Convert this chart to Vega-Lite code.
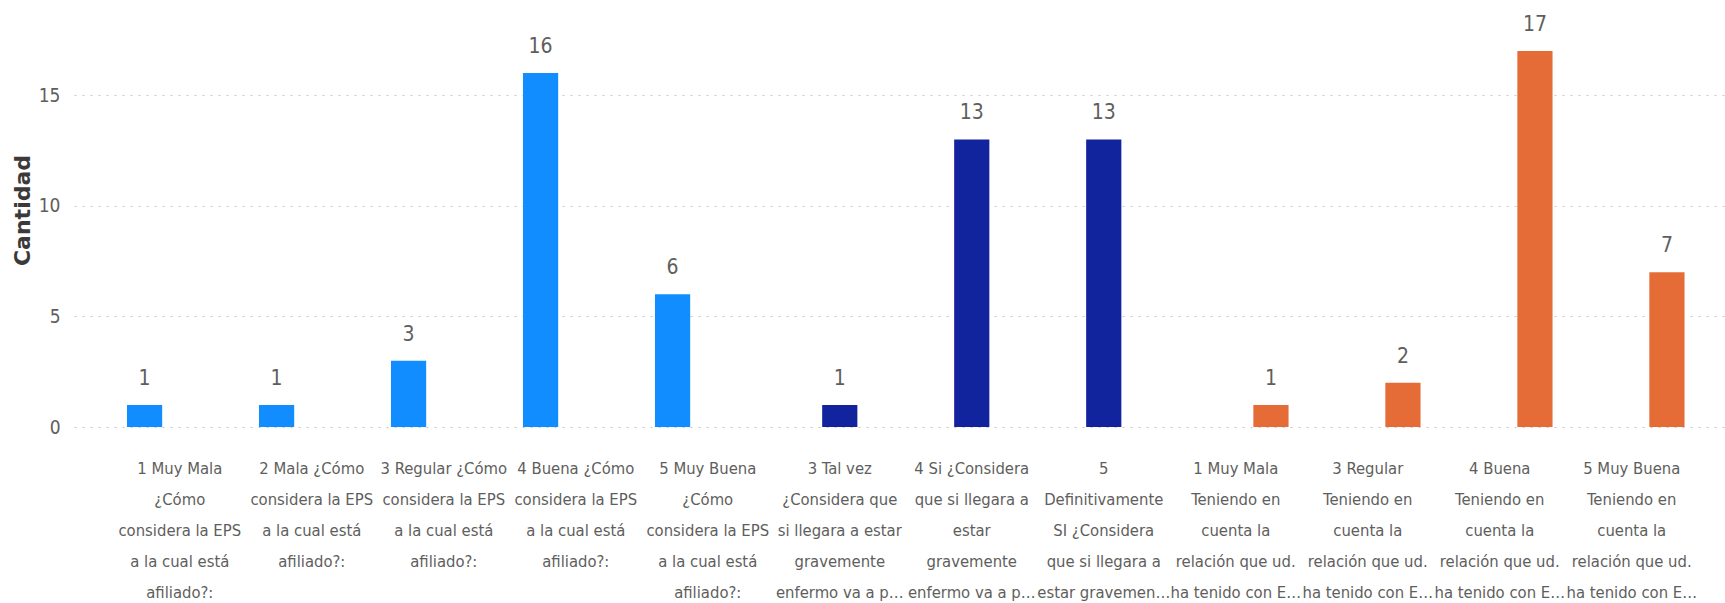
{
  "$schema": "https://vega.github.io/schema/vega-lite/v6.json",
  "autosize": {"type": "none"},
  "padding": {"left": 74, "top": 0, "right": 0, "bottom": 176},
  "width": 1651,
  "height": 427,
  "background": "white",
  "config": {
    "view": {"stroke": null},
    "font": "DejaVu Sans Condensed, sans-serif"
  },
  "data": {
    "values": [
      {"cat": "1 Muy Mala|¿Cómo|considera la EPS|a la cual está|afiliado?:", "serie": "EPS", "cantidad": 1},
      {"cat": "2 Mala ¿Cómo|considera la EPS|a la cual está|afiliado?:", "serie": "EPS", "cantidad": 1},
      {"cat": "3 Regular ¿Cómo|considera la EPS|a la cual está|afiliado?:", "serie": "EPS", "cantidad": 3},
      {"cat": "4 Buena ¿Cómo|considera la EPS|a la cual está|afiliado?:", "serie": "EPS", "cantidad": 16},
      {"cat": "5 Muy Buena|¿Cómo|considera la EPS|a la cual está|afiliado?:", "serie": "EPS", "cantidad": 6},
      {"cat": "3 Tal vez|¿Considera que|si llegara a estar|gravemente|enfermo va a p…", "serie": "Enfermo", "cantidad": 1},
      {"cat": "4 Si ¿Considera|que si llegara a|estar|gravemente|enfermo va a p…", "serie": "Enfermo", "cantidad": 13},
      {"cat": "5|Definitivamente|SI ¿Considera|que si llegara a|estar gravemen…", "serie": "Enfermo", "cantidad": 13},
      {"cat": "1 Muy Mala|Teniendo en|cuenta la|relación que ud.|ha tenido con E…", "serie": "Relacion", "cantidad": 1},
      {"cat": "3 Regular|Teniendo en|cuenta la|relación que ud.|ha tenido con E…", "serie": "Relacion", "cantidad": 2},
      {"cat": "4 Buena|Teniendo en|cuenta la|relación que ud.|ha tenido con E…", "serie": "Relacion", "cantidad": 17},
      {"cat": "5 Muy Buena|Teniendo en|cuenta la|relación que ud.|ha tenido con E…", "serie": "Relacion", "cantidad": 7}
    ]
  },
  "encoding": {
    "x": {
      "field": "cat", "type": "nominal", "sort": null,
      "scale": {"paddingInner": 0.2, "paddingOuter": 0.354, "align": 0.567},
      "axis": {
        "title": null, "labelAngle": 0, "domain": false, "ticks": false,
        "labelExpr": "split(datum.label, '|')",
        "labelFontSize": 16.5, "labelLineHeight": 31, "labelColor": "#605E5C",
        "labelPadding": 33, "labelOverlap": false, "labelBound": false, "labelLimit": 0,
        "labelAlign": "center", "labelBaseline": "top"
      }
    },
    "xOffset": {
      "field": "serie", "type": "nominal",
      "scale": {"domain": ["EPS", "Enfermo", "Relacion"], "paddingInner": 0, "paddingOuter": 0}
    },
    "y": {
      "field": "cantidad", "type": "quantitative",
      "scale": {"domain": [0, 19.3], "nice": false},
      "axis": {
        "title": "Cantidad", "values": [0, 5, 10, 15],
        "domain": false, "ticks": false,
        "labelFontSize": 19, "labelColor": "#605E5C", "labelPadding": 14,
        "grid": true, "gridColor": "#C8C6C4", "gridDash": [2, 6], "gridWidth": 1.2,
        "titleFontSize": 22, "titleFontWeight": "bold", "titleColor": "#3B3A39",
        "titleFont": "DejaVu Sans, sans-serif",
        "titleX": -52, "titleY": 210, "titleBaseline": "middle", "titleAngle": -90
      }
    }
  },
  "layer": [
    {
      "mark": {"type": "bar"},
      "encoding": {
        "color": {
          "field": "serie", "type": "nominal", "legend": null,
          "scale": {"domain": ["EPS", "Enfermo", "Relacion"], "range": ["#118DFF", "#12239E", "#E66C37"]}
        }
      }
    },
    {
      "mark": {"type": "text", "baseline": "alphabetic", "dy": -20, "fontSize": 21, "color": "#605E5C"},
      "encoding": {
        "text": {"field": "cantidad", "type": "quantitative"}
      }
    }
  ]
}
